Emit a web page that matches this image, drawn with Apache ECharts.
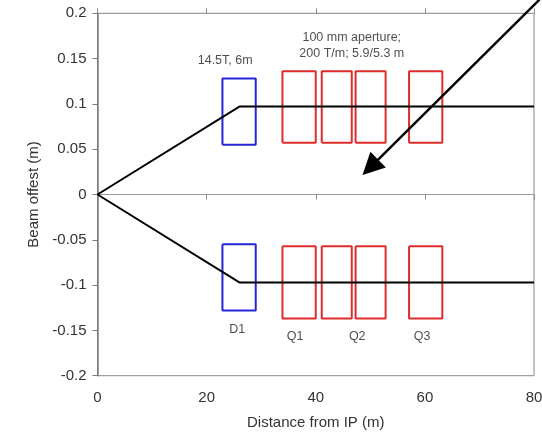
<!DOCTYPE html>
<html>
<head>
<meta charset="utf-8">
<script src="https://cdn.jsdelivr.net/npm/echarts@6/dist/echarts.min.js"></script>
<style>html,body{margin:0;padding:0;background:#fff}#c{width:542px;height:435px}</style>
</head>
<body>
<div id="c"></div>
<script>
// Beam trajectories [distance (m), offset (m)]
var beamUpper = [[0, 0], [26, 0.097], [80, 0.097]];
var beamLower = [[0, 0], [26, -0.097], [80, -0.097]];
// Magnets: [xStart, xEnd, yInner, yOuter]
var dipoleRects = [[22.9, 29.0, 0.055, 0.128], [22.9, 29.0, -0.055, -0.128]];
var quadRects = [
  [33.9, 40.0, 0.057, 0.136], [41.1, 46.6, 0.057, 0.136], [47.3, 52.8, 0.057, 0.136], [57.1, 63.2, 0.057, 0.136],
  [33.9, 40.0, -0.057, -0.137], [41.1, 46.6, -0.057, -0.137], [47.3, 52.8, -0.057, -0.137], [57.1, 63.2, -0.057, -0.137]
];
// Annotations
var annotations = [
  {text: '14.5T, 6m', pos: [23.4, 0.148]},
  {text: '100 mm aperture;', pos: [46.6, 0.173]},
  {text: '200 T/m; 5.9/5.3 m', pos: [46.6, 0.156]},
  {text: 'D1', pos: [25.6, -0.149]},
  {text: 'Q1', pos: [36.2, -0.157]},
  {text: 'Q2', pos: [47.6, -0.157]},
  {text: 'Q3', pos: [59.5, -0.157]}
];
var arrowLine = [[81, 0.215], [50.0, 0.030]];
var xTicks = [0, 20, 40, 60, 80];
var yTicks = [-0.2, -0.15, -0.1, -0.05, 0, 0.05, 0.1, 0.15, 0.2];

function rectPoly(r) {
  return [[r[0], r[2]], [r[0], r[3]], [r[1], r[3]], [r[1], r[2]], [r[0], r[2]]];
}

var FONT = 'Liberation Sans, Arial, sans-serif';
var series = [];
dipoleRects.forEach(function (r) {
  series.push({type: 'line', data: rectPoly(r), showSymbol: false, symbol: 'none', silent: true,
    lineStyle: {color: '#2424d8', width: 2}, z: 3});
});
quadRects.forEach(function (r) {
  series.push({type: 'line', data: rectPoly(r), showSymbol: false, symbol: 'none', silent: true,
    lineStyle: {color: '#de2c2c', width: 2}, z: 3});
});
[beamUpper, beamLower].forEach(function (b) {
  series.push({type: 'line', data: b, showSymbol: false, symbol: 'none', silent: true,
    lineStyle: {color: '#000', width: 2}, z: 4});
});
series.push({
  type: 'scatter', symbolSize: 0, silent: true, z: 5,
  data: annotations.map(function (a) { return {value: a.pos, name: a.text}; }),
  label: {show: true, position: 'inside', formatter: '{b}', color: '#222', fontSize: 12.5, fontFamily: FONT}
});
series.push({
  type: 'lines', coordinateSystem: 'cartesian2d', clip: false, silent: true, z: 6,
  symbol: ['none', 'triangle'], symbolSize: [21, 22],
  lineStyle: {color: '#000', width: 2.5, opacity: 1},
  data: [{coords: arrowLine}]
});

var chart = echarts.init(document.getElementById('c'));
chart.setOption({
  animation: false,
  grid: {left: 97.5, right: 8, top: 13.3, bottom: 59.3, show: true, borderColor: '#8a8a8a', borderWidth: 1,
    containLabel: false, outerBoundsMode: 'none'},
  xAxis: [{
    type: 'value', min: 0, max: 80, interval: 20, position: 'bottom',
    axisLine: {show: true, onZero: true, lineStyle: {color: '#9a9a9a', width: 1}},
    axisTick: {show: true, inside: false, length: 5, lineStyle: {color: '#8a8a8a'}},
    axisLabel: {margin: 15, color: '#333', fontSize: 15, fontFamily: FONT,
      formatter: function (v) { return xTicks.indexOf(v) >= 0 ? String(v) : ''; }},
    splitLine: {show: false},
    name: 'Distance from IP (m)', nameLocation: 'middle', nameGap: 40,
    nameTextStyle: {color: '#333', fontSize: 15, fontFamily: FONT}
  }, {
    type: 'value', min: 0, max: 80, interval: 20, position: 'top',
    axisLine: {show: true, onZero: true, lineStyle: {color: '#9a9a9a', width: 1}},
    axisTick: {show: true, inside: false, length: 5, lineStyle: {color: '#8a8a8a'}},
    axisLabel: {show: false}, splitLine: {show: false}
  }],
  yAxis: {
    type: 'value', min: -0.2, max: 0.2, interval: 0.05,
    axisLine: {show: true, onZero: false, lineStyle: {color: '#7a7a7a', width: 1.5}},
    axisTick: {show: true, inside: false, length: 5, lineStyle: {color: '#7a7a7a'}},
    axisLabel: {margin: 11, color: '#333', fontSize: 15, fontFamily: FONT,
      formatter: function (v) { var r = Math.round(v * 100) / 100; return String(r); }},
    splitLine: {show: false},
    name: 'Beam offest (m)', nameLocation: 'middle', nameGap: 55,
    nameTextStyle: {color: '#333', fontSize: 15, fontFamily: FONT}
  },
  series: series
});
</script>
</body>
</html>
